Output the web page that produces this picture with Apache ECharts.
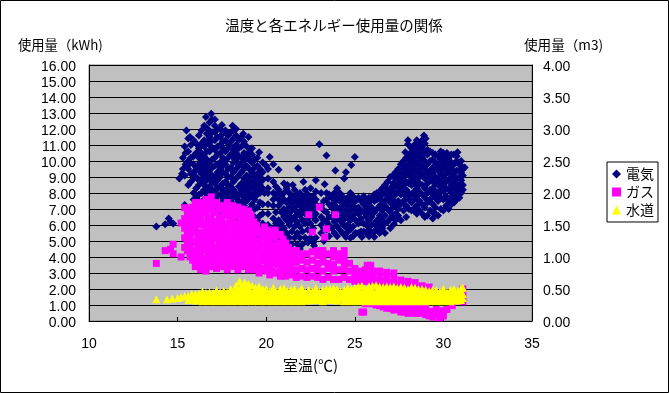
<!DOCTYPE html>
<html><head><meta charset="utf-8">
<style>html,body{margin:0;padding:0;background:#fff}#c{width:669px;height:393px}</style>
<script src="https://cdn.jsdelivr.net/npm/echarts@6/dist/echarts.min.js"></script>
</head><body><div id="c"></div>
<script>
const yLeftTicks = 16, xMin = 10, xMax = 35;
// [室温, kWh]
const elecPoints = [[13.8,5.9],[14.3,6.05],[14.5,6.4],[14.75,6.1],[14.6,6.2],[15.1,8.9],[15.25,9.2],[15.4,7.25],[15.7,9.85],[15.4,10.9],[15.5,11.9],[15.7,11.5],[15.4,9.1],
[16.6,12.75],[16.9,12.95],[17.1,12.6],[16.7,12.0],[17.5,12.25],[18.1,12.2],[18.3,12.0],[18.7,11.7],[19.0,11.5],[19.2,10.8],[19.6,10.55],[20.2,10.25],[20.0,9.7],[20.4,9.8],[20.7,9.45],[19.9,8.0],[21.8,9.55],[21.5,8.5],[21.2,8.5],
[22.1,8.7],[22.8,8.8],[23.0,11.05],[23.4,10.35],[23.3,8.55],[23.9,9.4],[24.5,9.3],[24.4,8.9],[24.8,9.75],[25.0,10.25],
[21.3,4.5],[21.9,4.5],[22.7,4.7],[24.5,5.25],[25.4,5.25],[26.1,5.25],[27.2,6.05],[29.4,6.4],[28.4,7.1],
[27.85,10.55],[28.0,11.3],[28.0,11.05],[28.2,10.55],[28.6,11.1],[28.9,11.6],[29.0,11.4],[28.8,11.0],[30.2,10.5],[30.8,10.55],[31.2,9.6],[31.1,8.2]];
// [室温, [kWh...]]
const elecColumns = [
[15.3,[9.5,10.2]],[15.6,[8.5,9.5,10.0,10.6,11.4]],[15.9,[7.6,8.0,8.9,9.3,9.8,10.3,11.3]],[16.2,[7.5,7.9,8.5,8.8,9.4,9.8,10.2,10.8,11.6]],
[16.5,[7.2,7.6,8.2,8.5,9.0,9.4,9.8,10.3,10.9,11.3,12.2]],[16.8,[7.0,7.6,8.0,8.4,8.9,9.4,9.9,10.6,11.0,11.5,12.4]],[17.1,[7.1,7.6,8.1,8.6,9.0,9.7,10.2,10.7,11.3,11.8,12.2]],
[17.4,[6.9,7.3,7.9,8.4,9.0,9.5,9.9,10.5,11.0,11.5,12.0]],[17.7,[7.0,7.5,7.9,8.2,8.7,9.2,9.8,10.0,10.6,11.3,11.9]],[18.0,[6.6,7.2,7.5,8.1,8.4,9.0,9.6,10.4,10.9,11.2,11.8]],
[18.3,[6.3,6.8,7.2,7.7,8.0,8.9,9.5,10.0,10.5,11.0,11.6]],[18.6,[5.9,6.4,7.0,7.4,7.9,8.2,8.6,9.3,9.8,10.2,10.9,11.5]],[18.9,[5.7,6.0,6.8,7.5,7.8,8.2,8.7,9.1,9.7,10.3,10.9]],
[19.2,[5.5,6.1,6.6,7.3,7.8,8.3,8.7,9.3,9.9,10.4]],[19.5,[5.3,6.3,7.1,7.9,8.2,8.7,9.2,9.7,10.2]],[19.8,[5.6,6.1,6.7,7.3,8.3,8.8,9.3,9.9]],[20.1,[5.0,6.0,6.7,7.3,8.0,8.3,8.9,9.5]],
[20.4,[5.0,5.8,6.4,7.2,7.6,8.0,8.7]],[20.7,[4.7,5.2,5.9,6.3,7.2,7.6,8.2]],[21.0,[4.6,5.3,5.8,6.5,7.0,7.6,8.0,8.6]],[21.3,[5.2,6.0,6.6,7.1,7.6,8.0]],[21.6,[5.2,5.9,6.5,7.1,7.6,8.2]],
[21.9,[5.2,5.9,6.6,7.2,7.6,8.0]],[22.2,[5.2,6.1,6.7,7.2,7.6,8.2]],[22.5,[5.2,6.1,6.7,7.2,7.6,8.3]],[22.8,[5.2,6.3,6.7,7.3,7.6,8.1]],[23.1,[5.5,6.0,6.5,7.2,8.0]],[23.4,[5.7,6.2,6.8,7.6,8.0]],
[23.7,[5.8,6.5,7.1,7.7]],[24.0,[5.3,5.9,6.4,7.1,7.7,8.3]],[24.3,[5.5,6.1,6.6,7.2,7.8]],[24.6,[5.6,6.0,6.6,7.2,7.7]],[24.9,[5.3,5.9,6.6,7.2,7.8]],[25.2,[5.5,6.1,6.7,7.1,7.7]],[25.5,[5.6,6.1,6.8,7.3,7.8]],
[25.8,[5.3,5.7,6.3,6.8,7.4,7.7]],[26.1,[5.6,6.1,6.8,7.5,7.9]],[26.4,[5.5,6.1,6.6,7.2,7.7,8.1]],[26.7,[5.5,6.1,6.6,7.2,7.5,8.0,8.5]],[27.0,[5.8,6.4,6.8,7.4,7.9,8.3,9.0]],[27.3,[6.3,6.7,7.3,7.9,8.4,8.9,9.3]],
[27.6,[6.3,7.3,7.9,8.3,8.8,9.2,9.8]],[27.9,[6.5,7.2,7.8,8.2,8.7,9.3,9.7,10.2]],[28.2,[6.9,7.4,7.9,8.5,8.8,9.3,9.8,10.2,10.8]],[28.5,[6.7,7.2,7.8,8.3,8.8,9.3,9.8,10.3,10.8,11.3]],[28.8,[6.7,7.3,7.9,8.5,9.2,9.7,10.2,10.8,11.3]],
[29.1,[6.6,7.4,8.0,8.6,9.2,9.8,10.4,10.7]],[29.4,[6.8,7.3,7.9,8.3,8.7,9.2,9.6,10.1,10.5]],[29.7,[6.6,7.5,7.9,8.5,8.9,9.4,9.8,10.3]],[30.0,[6.9,7.6,8.1,8.5,9.0,9.5,9.8,10.3,10.5]],[30.3,[7.0,7.5,8.2,8.8,9.3,9.7,10.2]],
[30.6,[7.4,7.8,8.3,8.7,9.2,9.8,10.4]],[30.9,[7.7,8.2,8.5,9.0,9.4,9.8]],[31.1,[8.5,9.1,9.5]],
[15.45,[9.8,10.5]],[15.75,[8.7,9.2,10.2,11.0]],[16.05,[7.7,8.3,9.0,9.6,10.5,11.1]],[16.35,[7.4,8.0,8.7,9.2,9.6,10.0,10.5,11.1,11.9]],[16.65,[7.4,7.9,8.3,8.8,9.2,9.6,10.1,10.6,11.2,11.7]],[16.95,[7.3,7.8,8.2,8.7,9.1,9.6,10.1,10.8,11.3,11.8,12.6]],
[17.25,[7.4,7.8,8.3,8.8,9.3,9.8,10.4,10.9,11.5,12.0]],[17.55,[7.1,7.6,8.2,8.6,9.3,9.7,10.2,10.8,11.2,11.7]],[17.85,[6.9,7.3,7.7,8.0,8.5,9.0,9.5,10.2,10.8,11.1,11.6]],[18.15,[6.8,7.3,7.8,8.2,8.7,9.3,9.9,10.2,10.7,11.4,11.9]],
[18.45,[6.5,7.0,7.5,7.9,8.4,9.1,9.7,10.3,10.8,11.3]],[18.75,[6.1,6.7,7.2,7.7,8.0,8.4,8.9,9.5,10.0,10.5,11.2]],[19.05,[5.9,6.4,7.0,7.7,8.0,8.5,9.0,9.5,10.1,10.6]],[19.35,[5.8,6.5,7.0,7.6,8.0,8.5,9.0,9.6,10.1]],[19.65,[5.8,6.6,7.4,8.0,8.5,9.0,9.5]],
[20.55,[5.4,6.1,6.8,7.9,8.4]],[20.85,[5.0,5.6,6.1,6.8,7.4,7.9]],[21.15,[4.9,5.5,6.3,6.8,7.4,8.3]],[21.45,[4.8,5.6,6.3,6.9,7.4,7.8]],[21.75,[4.8,5.5,6.2,6.8,7.4,7.9]],[22.05,[4.8,5.6,6.3,6.9,7.4,7.8]],[22.35,[4.9,5.7,6.4,7.0,7.4,7.9]],[22.65,[4.9,5.8,6.5,7.0,7.4,7.8]],
[23.25,[5.0,5.8,6.3,6.9,7.5]],[23.55,[5.3,6.0,6.5,7.3,7.9]],[23.85,[5.5,6.2,6.8,7.4,8.0]],[24.15,[5.7,6.3,6.9,7.5,8.0]],[24.45,[5.4,5.9,6.4,6.9,7.5]],[24.75,[5.2,5.7,6.3,6.9,7.5,8.0]],[25.05,[5.5,6.3,6.9,7.5]],[25.35,[5.6,6.4,6.9,7.5]],[25.65,[5.5,6.0,6.5,7.1,7.6]],[25.95,[5.5,6.0,6.5,7.1,7.7]],[26.25,[5.8,6.3,7.0,7.6,8.0]],[26.55,[5.8,6.3,6.9,7.5,7.9,8.3]],
[26.85,[6.2,7.0,7.7,8.2,8.7]],[27.15,[6.5,7.1,7.6,8.1,8.6,9.1]],[27.45,[6.6,7.0,7.5,8.1,8.6,9.1,9.5]],[27.75,[6.9,7.5,8.1,8.5,9.0,9.5,10.0]],[28.05,[7.0,7.6,8.0,8.6,9.1,9.5,10.0,10.4]],[28.35,[6.9,7.6,8.1,8.6,9.0,9.5,10.0,10.5,11.0]],[28.65,[6.9,7.5,8.1,8.6,9.0,9.5,10.0,10.5,11.0]],[28.95,[6.5,7.1,7.7,8.3,8.9,9.5,10.0,10.5,11.1]],
[29.25,[6.9,7.6,8.2,8.9,9.4,10.0,10.6]],[29.55,[6.7,7.1,7.7,8.1,8.6,9.0,9.5,9.9,10.4]],[29.85,[7.0,7.7,8.2,8.7,9.2,9.6,10.1,10.6]],[30.15,[7.2,7.8,8.3,8.7,9.2,9.6,10.0,10.4]],[30.45,[7.3,7.7,8.0,8.5,9.0,9.5,9.9,10.4]],[30.75,[7.6,8.0,8.5,8.9,9.4,10.0,10.3]],[31.0,[8.0,8.8,9.3,9.7,10.0]]];
// [室温, m3]
const gasPoints = [[13.8,0.9],[14.3,1.1],[14.6,1.12],[14.75,1.2],[14.75,1.05],[15.2,1.53],[15.2,1.0],[15.4,1.77],[16.9,1.94],[22.4,1.66],[22.6,1.39],[23.0,1.78],[23.3,1.31],[23.4,1.44],[23.9,1.66],[25.4,0.14],[25.5,0.14],[25.7,0.87],[25.9,0.87]];
// [室温, [m3...]]
const gasColumns = [
[15.4,[1.15,1.3,1.45,1.6]],[15.7,[1.0,1.15,1.3,1.45,1.6,1.75]],[16.0,[.85,1.0,1.1,1.25,1.45,1.6,1.7,1.85]],[16.3,[.8,.9,1.05,1.2,1.3,1.5,1.6,1.75,1.85]],[16.6,[.78,.95,1.1,1.2,1.3,1.45,1.55,1.7,1.78,1.9]],
[16.9,[.85,1.0,1.1,1.2,1.4,1.5,1.6,1.8,1.85]],[17.2,[.82,.95,1.05,1.15,1.3,1.45,1.55,1.7,1.85]],[17.5,[.85,1.0,1.1,1.25,1.35,1.45,1.6,1.8]],[17.8,[.8,.9,1.05,1.15,1.25,1.35,1.5,1.65,1.85]],
[18.1,[.85,.95,1.05,1.15,1.3,1.45,1.6,1.7,1.8]],[18.4,[.8,1.0,1.1,1.2,1.3,1.4,1.5,1.65,1.78]],[18.7,[.85,.95,1.05,1.15,1.25,1.35,1.5,1.62,1.75]],[19.0,[.8,.9,1.0,1.1,1.25,1.35,1.45,1.6,1.72]],
[19.3,[.8,.95,1.05,1.15,1.3,1.45,1.55]],[19.6,[.75,.85,1.0,1.15,1.25,1.4]],[19.9,[.8,.95,1.05,1.2,1.35,1.47]],[20.2,[.72,.85,1.0,1.1,1.25,1.4]],[20.5,[.75,.9,1.0,1.15,1.3,1.42]],[20.8,[.7,.82,.95,1.1,1.22,1.35]],
[21.1,[.7,.85,.95,1.1,1.22]],[21.4,[.72,.85,1.0,1.1]],[21.7,[.68,.8,.92,1.0,1.1]],[22.0,[.7,.82,.95,1.05]],[22.3,[.68,.8,.92,1.05]],[22.6,[.7,.82,.95,1.08]],[22.9,[.68,.8,.9,1.02,1.1]],[23.2,[.65,.78,.92,1.0,1.1]],
[23.5,[.68,.82,.9,1.05]],[23.8,[.65,.78,.88,1.0,1.1]],[24.1,[.65,.8,.95,1.05]],[24.4,[.68,.8,.9,1.0,1.1]],[24.7,[.65,.78,.9]],[25.0,[.62,.72,.82]],[25.3,[.62,.7,.78]],[25.6,[.27,.62,.7,.8]],[26.0,[.27,.62,.7,.78]],
[26.2,[.25]],[26.4,[.24,.6,.68,.78]],[26.6,[.22]],[26.8,[.2,.6,.68,.76]],[27.0,[.2,.25]],[27.2,[.17,.24,.58,.66,.75]],[27.4,[.18,.24]],[27.6,[.14,.2,.58,.64]],[27.8,[.14,.22]],[28.0,[.12,.2,.56,.62]],[28.2,[.15,.22]],[28.4,[.12,.18,.55,.6]],[28.6,[.12,.2]],
[28.8,[.14,.2,.55]],[29.0,[.1,.16,.22]],[29.2,[.08,.15,.53]],[29.4,[.06,.14]],[29.6,[.1,.18]],[29.8,[.05,.12]],[30.0,[.08,.16]],[30.2,[.18]],[30.5,[.24]],[31.1,[.3,.4,.5]],
[15.55,[1.1,1.22,1.38,1.52,1.68]],[15.85,[.95,1.08,1.22,1.38,1.52,1.68,1.78]],[16.15,[.88,.98,1.15,1.32,1.38,1.52,1.66,1.78]],[16.45,[.85,.98,1.12,1.25,1.38,1.55,1.68,1.8]],[16.75,[.85,.92,1.05,1.15,1.25,1.35,1.48,1.62,1.74,1.88]],
[17.05,[.9,1.05,1.15,1.28,1.35,1.45,1.55,1.7,1.82]],[17.35,[.88,1.0,1.12,1.22,1.38,1.5,1.62,1.75]],[17.65,[.9,.98,1.08,1.18,1.3,1.4,1.52,1.7,1.8]],[17.95,[.88,1.0,1.1,1.2,1.3,1.42,1.56,1.72,1.8]],[18.25,[.9,1.0,1.1,1.22,1.38,1.52,1.66,1.75]],
[18.55,[.9,1.05,1.15,1.25,1.35,1.45,1.58,1.7]],[18.85,[.88,1.0,1.1,1.2,1.3,1.42,1.55,1.68]],[19.15,[.88,.98,1.08,1.2,1.3,1.4,1.52,1.65]],[19.45,[.88,1.0,1.1,1.2,1.38,1.5]],[19.75,[.82,.95,1.08,1.2,1.32,1.42]],[20.05,[.78,.9,1.02,1.15,1.3,1.42]],
[20.35,[.78,.92,1.05,1.18,1.32]],[20.65,[.75,.88,1.05,1.2,1.35]],[20.95,[.75,.88,1.02,1.15,1.28]],[21.25,[.78,.9,1.02,1.15]],[21.55,[.78,.92,1.05]]];
// [室温, m3]
const waterPoints = [[13.8,0.34],[14.4,0.34],[14.7,0.35],[15.0,0.36],[15.2,0.37],[15.4,0.39],[18.5,0.62],[18.8,0.6],[19.0,0.58],[18.3,0.55],[23.6,0.5]];
// [室温, [m3...]]
const waterColumns = [
[15.6,[.33,.39]],[15.8,[.36,.42]],[16.0,[.32,.37,.42]],[16.2,[.34,.43]],[16.4,[.31,.36,.41,.46]],[16.6,[.33,.44]],[16.8,[.31,.36,.41,.45]],[17.0,[.33,.39,.44]],[17.2,[.31,.36,.41,.48]],[17.4,[.33,.38,.45]],
[17.6,[.31,.36,.42,.47]],[17.8,[.33,.39,.45]],[18.0,[.31,.36,.41,.5]],[18.2,[.33,.38,.46]],[18.4,[.31,.36,.42,.5]],[18.6,[.33,.39,.47,.54]],[18.8,[.31,.36,.41,.47,.54]],[19.0,[.33,.38,.45,.5]],[19.2,[.31,.36,.42,.55]],[19.4,[.33,.39,.47,.52]],
[19.6,[.31,.36,.41,.47,.54]],[19.8,[.33,.38,.45,.5]],[20.0,[.31,.36,.42,.5]],[20.2,[.33,.39,.46]],[20.4,[.31,.36,.41,.47,.52]],[20.6,[.33,.38,.45]],[20.8,[.31,.36,.42,.5]],[21.0,[.33,.39,.46,.51]],[21.2,[.31,.36,.41,.47]],[21.4,[.33,.38,.45,.49]],
[21.6,[.31,.36,.42,.5]],[21.8,[.33,.39,.46]],[22.0,[.31,.36,.41,.47,.51]],[22.2,[.33,.38,.45]],[22.4,[.32,.36,.42,.49]],[22.6,[.34,.39,.46]],[22.8,[.33,.36,.41,.47,.51]],[23.0,[.34,.38,.45]],[23.2,[.31,.36,.42,.49]],[23.4,[.35,.39,.46,.5]],
[23.6,[.33,.36,.41,.47]],[23.8,[.34,.38,.45,.51]],[24.0,[.32,.36,.42,.5]],[24.2,[.35,.39,.46]],[24.4,[.31,.36,.41,.47,.49]],[24.6,[.33,.38,.45,.51]],[24.8,[.31,.36,.42,.5]],[25.0,[.33,.39,.46,.52]],[25.2,[.31,.36,.41,.47,.54]],[25.4,[.33,.38,.45,.55]],
[25.6,[.31,.36,.42,.5]],[25.8,[.33,.39,.46,.54]],[26.0,[.31,.36,.41,.47,.55]],[26.2,[.33,.38,.45,.56]],[26.4,[.31,.36,.42,.5,.54]],[26.6,[.33,.39,.46,.53]],[26.8,[.31,.36,.41,.47,.54]],[27.0,[.33,.38,.45,.53]],[27.2,[.31,.36,.42,.5,.54]],[27.4,[.33,.39,.46,.52]],
[27.6,[.31,.36,.41,.47,.53]],[27.8,[.33,.38,.45,.52]],[28.0,[.31,.36,.42,.5]],[28.2,[.33,.39,.46,.53]],[28.4,[.31,.36,.41,.47,.52]],[28.6,[.33,.38,.45,.5]],[28.8,[.31,.36,.42,.5]],[29.0,[.33,.39,.46,.49]],[29.2,[.31,.36,.41,.47]],[29.4,[.33,.38,.45,.49]],
[29.6,[.31,.36,.42,.48]],[29.8,[.33,.39,.46]],[30.0,[.31,.36,.41,.47,.5]],[30.2,[.33,.38,.45]],[30.4,[.31,.36,.42,.49]],[30.6,[.33,.39,.46,.5]],[30.8,[.32,.36,.41,.47]],[31.0,[.33,.38,.45,.51]],[31.1,[.36,.42,.52]]];

const expand = (points, columns) => points.concat(columns.flatMap(([x, ys]) => ys.map(y => [x, y])));
const seriesNames = ['電気','ガス','水道'];
const jp = '"Noto Sans CJK JP"', num = '"Liberation Sans"';
const tickRich = {v:{fontFamily:num,fontSize:14,color:'#000',padding:[4,0,0,0]}};
const chart = echarts.init(document.getElementById('c'), null, {renderer:'canvas'});
chart.setOption({
  animation:false, backgroundColor:'#fff',
  title:{text:'温度と各エネルギー使用量の関係',left:329,top:13,textAlign:'center',textStyle:{fontFamily:jp,fontSize:14.5,fontWeight:'normal',color:'#000'}},
  legend:{orient:'vertical',left:607,top:162,width:52,padding:[5,4,5,5],itemGap:4,itemWidth:9,itemHeight:9,borderColor:'#000',borderWidth:1,backgroundColor:'#fff',
    data:[{name:'電気',icon:'diamond'},{name:'ガス',icon:'rect'},{name:'水道',icon:'triangle'}],
    textStyle:{fontFamily:jp,fontSize:14,color:'#000'}},
  grid:{left:89,right:137,top:65,bottom:72,show:true,backgroundColor:'#C0C0C0',borderColor:'#808080',borderWidth:1},
  xAxis:{type:'value',min:xMin,max:xMax,interval:5,
    name:'室温(℃)',nameLocation:'middle',nameGap:37,nameTextStyle:{fontFamily:jp,fontSize:15,color:'#000'},
    axisLine:{show:true,lineStyle:{color:'#000'}},axisTick:{show:true,inside:true,length:4,lineStyle:{color:'#000'}},
    axisLabel:{show:true,margin:16,fontFamily:num,fontSize:14,color:'#000'},splitLine:{show:false}},
  yAxis:[{type:'value',min:0,max:yLeftTicks,interval:1,position:'left',
    name:'使用量（kWh)',nameLocation:'end',nameGap:13,nameTextStyle:{fontFamily:jp,fontSize:13.3,color:'#000',align:'left',padding:[0,0,0,-71]},
    axisLine:{show:true,onZero:false,lineStyle:{color:'#000'}},axisTick:{show:true,inside:true,length:4,lineStyle:{color:'#000'}},
    axisLabel:{margin:13,rich:tickRich,formatter:v=>'{v|'+v.toFixed(2)+'}'},
    splitLine:{show:true,lineStyle:{color:'#000',width:1}}},
   {type:'value',min:0,max:4,interval:0.5,position:'right',
    name:'使用量（m3)',nameLocation:'end',nameGap:13,nameTextStyle:{fontFamily:jp,fontSize:13.6,color:'#000',align:'left',padding:[0,0,0,-8]},
    axisLine:{show:true,onZero:false,lineStyle:{color:'#000'}},axisTick:{show:true,inside:true,length:4,lineStyle:{color:'#000'}},
    axisLabel:{margin:11,rich:tickRich,formatter:v=>'{v|'+v.toFixed(2)+'}'},
    splitLine:{show:false}}],
  series:[
    {name:seriesNames[0],type:'scatter',yAxisIndex:0,symbol:'diamond',symbolSize:8,itemStyle:{color:'#000080',opacity:1},data:expand(elecPoints,elecColumns),clip:false,z:3},
    {name:seriesNames[1],type:'scatter',yAxisIndex:1,symbol:'rect',symbolSize:7,itemStyle:{color:'#FF00FF',opacity:1},data:expand(gasPoints,gasColumns),clip:false,z:4},
    {name:seriesNames[2],type:'scatter',yAxisIndex:1,symbol:'triangle',symbolSize:8,itemStyle:{color:'#FFFF00',opacity:1},data:expand(waterPoints,waterColumns),clip:false,z:5}
  ],
  graphic:[{type:'rect',z:-1,silent:true,shape:{x:0.5,y:0.5,width:668,height:392},style:{fill:'none',stroke:'#000',lineWidth:1}}]
});
</script></body></html>
